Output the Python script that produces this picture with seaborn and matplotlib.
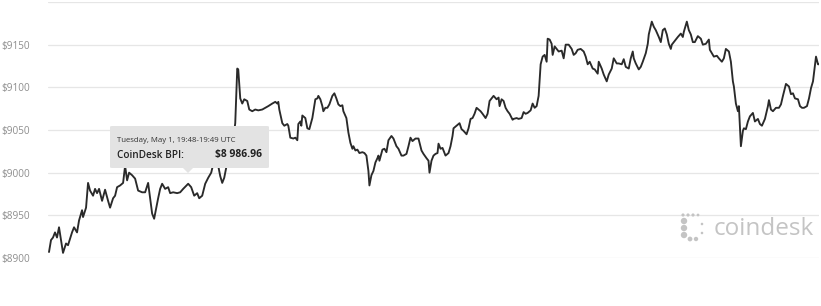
import numpy as np
import pandas as pd
import seaborn as sns
import matplotlib
matplotlib.use("Agg")
import matplotlib.pyplot as plt
from matplotlib.patches import FancyBboxPatch, Polygon, Ellipse

# ---- data (time step index, BPI price in USD) ----
step = [1, 3, 5, 7, 9, 11, 13, 15, 18, 20, 24, 26, 29, 31, 34, 35, 38, 40, 42, 45,
        47, 49, 51, 54, 57, 60, 62, 65, 67, 69, 72, 75, 77, 79, 81, 84, 87, 90, 94, 97,
        100, 104, 106, 108, 110, 112, 114, 117, 120, 122, 125, 129, 132, 135, 140, 143, 146, 149, 151, 154,
        157, 160, 163, 165, 168, 170, 172, 174, 176, 178, 181, 184, 187, 189, 190, 192, 194, 196, 199, 201,
        204, 207, 210, 214, 217, 220, 224, 227, 229, 230, 231, 234, 236, 239, 240, 242, 245, 247, 249, 250,
        252, 253, 254, 257, 259, 261, 264, 267, 269, 270, 272, 274, 275, 277, 279, 281, 284, 286, 288, 290,
        292, 294, 295, 298, 300, 302, 304, 305, 307, 309, 311, 314, 316, 318, 320, 321, 323, 325, 327, 329,
        330, 331, 334, 336, 338, 340, 343, 345, 348, 350, 353, 355, 358, 360, 362, 364, 367, 370, 373, 375,
        378, 380, 381, 383, 385, 387, 389, 390, 392, 394, 397, 400, 402, 404, 405, 408, 411, 413, 415, 418,
        420, 422, 424, 426, 428, 430, 432, 434, 437, 439, 441, 443, 445, 448, 450, 451, 453, 455, 457, 459,
        461, 464, 465, 468, 470, 473, 475, 477, 479, 482, 484, 486, 488, 490, 492, 494, 496, 498, 499, 501,
        503, 504, 506, 508, 510, 513, 515, 517, 520, 523, 525, 527, 529, 532, 535, 537, 539, 541, 544, 546,
        549, 550, 553, 555, 558, 560, 563, 565, 568, 570, 573, 575, 577, 580, 582, 584, 585, 587, 590, 592,
        594, 597, 599, 600, 603, 605, 607, 610, 612, 614, 616, 618, 620, 622, 623, 625, 629, 632, 634, 635,
        638, 640, 642, 644, 646, 649, 652, 654, 657, 660, 661, 663, 665, 668, 670, 673, 675, 677, 680, 682,
        684, 685, 687, 689, 690, 692, 694, 695, 697, 699, 701, 704, 706, 709, 711, 713, 716, 719, 720, 722,
        724, 727, 730, 732, 734, 737, 740, 742, 744, 746, 749, 751, 753, 755, 758, 760, 762, 764, 767, 769,
        770]
price = [8907, 8921, 8924, 8930, 8924, 8936, 8921, 8906, 8917, 8915, 8930, 8936, 8930, 8944, 8956, 8948, 8959, 8988, 8979, 8973,
         8981, 8976, 8981, 8967, 8980, 8967, 8959, 8970, 8973, 8983, 8985, 8988, 9008, 8991, 9000, 8997, 8993, 8979, 8977, 8977,
         8988, 8952, 8946, 8958, 8970, 8981, 8987, 8981, 8983, 8976, 8977, 8976, 8977, 8981, 8987, 8983, 8973, 8976, 8970, 8973,
         8987, 8994, 9000, 9010, 9015, 9008, 8996, 8988, 8994, 9006, 9015, 9030, 9058, 9122, 9121, 9087, 9081, 9086, 9084, 9074,
         9072, 9074, 9073, 9074, 9076, 9078, 9081, 9083, 9081, 9083, 9074, 9058, 9055, 9057, 9055, 9041, 9040, 9041, 9038, 9057,
         9060, 9055, 9067, 9064, 9052, 9051, 9064, 9086, 9087, 9090, 9086, 9078, 9072, 9076, 9076, 9080, 9090, 9093, 9087, 9080,
         9078, 9079, 9072, 9064, 9047, 9035, 9028, 9031, 9026, 9027, 9023, 9024, 9023, 9020, 9002, 8985, 8997, 9002, 9012, 9017,
         9020, 9014, 9027, 9028, 9024, 9038, 9043, 9040, 9031, 9028, 9020, 9020, 9022, 9031, 9041, 9037, 9040, 9040, 9026, 9022,
         9017, 9014, 9000, 9014, 9020, 9022, 9023, 9034, 9028, 9029, 9020, 9023, 9031, 9043, 9052, 9055, 9058, 9051, 9049, 9045,
         9052, 9063, 9064, 9069, 9076, 9074, 9072, 9069, 9064, 9069, 9084, 9087, 9090, 9086, 9088, 9078, 9086, 9084, 9076, 9072,
         9069, 9062, 9063, 9064, 9063, 9064, 9071, 9069, 9070, 9073, 9081, 9076, 9078, 9090, 9127, 9136, 9138, 9130, 9157, 9156,
         9151, 9138, 9148, 9145, 9142, 9143, 9134, 9150, 9150, 9145, 9138, 9140, 9144, 9145, 9142, 9136, 9127, 9130, 9122, 9121,
         9116, 9130, 9122, 9115, 9107, 9115, 9122, 9134, 9128, 9128, 9127, 9133, 9124, 9122, 9134, 9142, 9134, 9128, 9121, 9124,
         9130, 9140, 9151, 9162, 9177, 9171, 9167, 9159, 9153, 9167, 9169, 9162, 9151, 9145, 9150, 9153, 9159, 9163, 9159, 9165,
         9177, 9167, 9162, 9153, 9153, 9160, 9157, 9150, 9151, 9156, 9144, 9140, 9136, 9137, 9134, 9130, 9134, 9145, 9142, 9130,
         9107, 9101, 9081, 9072, 9078, 9031, 9049, 9052, 9051, 9060, 9066, 9070, 9060, 9063, 9057, 9055, 9063, 9078, 9085, 9074,
         9072, 9076, 9076, 9080, 9090, 9104, 9101, 9092, 9093, 9087, 9086, 9078, 9076, 9076, 9078, 9087, 9099, 9107, 9136, 9127,
         9127]
price = price[:len(step)]

tick_values = [8900, 8950, 9000, 9050, 9100, 9150, 9200]
tick_labels = ["$8900", "$8950", "$9000", "$9050", "$9100", "$9150", ""]

tooltip_date = "Tuesday, May 1, 19:48-19:49 UTC"
tooltip_label = "CoinDesk BPI:"
tooltip_value = "$8 986.96"
brand = "coindesk"

df = pd.DataFrame({"step": step, "price": price})

sns.set_theme(style="white")
plt.rcParams["font.family"] = ["Open Sans", "DejaVu Sans"]

W, H = 821, 306
fig = plt.figure(figsize=(W / 100, H / 100), dpi=100)
ax = fig.add_axes([48 / W, 48 / H, 771 / W, 256 / H])

sns.lineplot(data=df, x="step", y="price", ax=ax, color="#2a2a2a", linewidth=1.35, zorder=3)

ax.set_xlim(0, 770)
ax.set_ylim(8900, 9200)
ax.set_yticks(tick_values)
ax.set_yticklabels(tick_labels)
ax.set_xticks([])
ax.set_xlabel("")
ax.set_ylabel("")
ax.tick_params(axis="y", length=0, pad=13, labelsize=7.2, labelcolor="#8e8e8e")
ax.grid(axis="y", color="#e6e6e6", linewidth=0.9)
ax.set_axisbelow(True)
for s in ax.spines.values():
    s.set_visible(False)

# tooltip
box = FancyBboxPatch((110 / W, (H - 168) / H), 159 / W, 42 / H,
                     boxstyle="round,pad=0,rounding_size=0.003",
                     transform=fig.transFigure, facecolor="#e3e3e3",
                     edgecolor="none", zorder=10)
fig.patches.append(box)
tri = Polygon([[183 / W, (H - 168) / H], [193 / W, (H - 168) / H],
               [188 / W, (H - 173) / H]], closed=True,
              transform=fig.transFigure, facecolor="#e3e3e3", edgecolor="none", zorder=10)
fig.patches.append(tri)
fig.text(117 / W, (H - 141) / H, tooltip_date, fontsize=5.6, color="#333333",
         va="center", ha="left", zorder=11)
fig.text(117 / W, (H - 155) / H, tooltip_label, fontsize=7.2, color="#222222",
         fontweight="semibold", va="center", ha="left", zorder=11)
fig.text(262 / W, (H - 155) / H, tooltip_value, fontsize=7.4, color="#222222",
         fontweight="bold", va="center", ha="right", zorder=11)

# watermark logo
logo_col = "#c4c4c4"
fig.text(714 / W, (H - 229) / H, brand, fontsize=17.5, color=logo_col,
         va="center", ha="left", zorder=2)
dots = [(683, 215, 1.6), (688, 215, 1.6), (693, 215, 1.6), (698, 215, 1.4),
        (684, 221, 3.2), (684, 228, 3.2), (684, 235, 3.2),
        (690, 239, 2.4), (696, 239, 2.2),
        (702, 224, 1.3), (702, 233, 1.3)]
for dx, dy, r in dots:
    fig.add_artist(Ellipse((dx / W, (H - dy) / H), width=2 * r / W, height=2 * r / H,
                           transform=fig.transFigure, facecolor=logo_col, edgecolor="none"))

fig.savefig("out.png", dpi=100)
